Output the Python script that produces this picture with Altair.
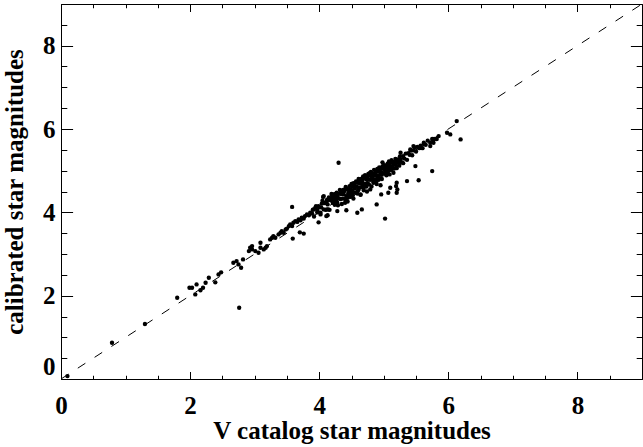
import altair as alt
import pandas as pd

# Sparse stars along the relation
sparse_x = [
    0.10, 0.79, 1.30, 1.80, 1.99, 2.03, 2.08, 2.10, 2.16, 2.20, 2.24, 2.29, 2.39, 2.44, 2.48,
    2.67, 2.72, 2.75, 2.79, 2.82, 2.91, 2.93, 2.96, 3.01, 3.06, 3.09,
    2.96, 3.09, 3.14, 3.17, 3.19, 3.24, 3.27, 3.29, 3.32,
    3.37, 3.40, 3.42, 3.45, 3.48, 3.50, 3.53, 3.55, 3.60, 3.63,
    3.66, 3.68, 3.71, 3.73, 3.76, 3.78, 3.81, 3.84, 3.86, 3.89, 3.58,
    3.91, 3.94, 3.97, 3.99, 4.02, 4.04, 4.07, 4.09, 4.12, 4.14, 4.17, 4.20, 4.22, 4.25, 4.27, 4.28,
    5.85, 5.98, 6.03, 6.13, 5.26, 5.41, 5.46, 5.57, 5.62, 5.72, 5.77,
]
sparse_y = [
    0.07, 0.87, 1.32, 1.95, 2.19, 2.19, 2.03, 2.27, 2.13, 2.19, 2.31, 2.43, 2.32, 2.51, 2.56,
    2.79, 2.83, 2.75, 2.67, 2.87, 3.07, 3.15, 3.19, 3.07, 3.03, 3.27,
    3.11, 3.15, 3.11, 3.15, 3.19, 3.35, 3.39, 3.43, 3.39,
    3.47, 3.51, 3.55, 3.51, 3.59, 3.61, 3.67, 3.71, 3.75, 3.79,
    3.77, 3.83, 3.81, 3.87, 3.85, 3.91, 3.95, 3.93, 3.99, 3.97, 3.67,
    4.07, 4.11, 4.05, 4.15, 3.99, 4.21, 4.39, 4.23, 4.27, 4.07, 4.31, 4.39, 4.43, 4.35, 4.47, 4.23,
    5.83, 5.91, 5.87, 6.19, 5.43, 5.51, 5.59, 5.55, 5.67, 5.59, 5.67,
]

# Stars lying off the relation
outlier_x = [
    2.76, 3.58, 3.59, 3.70, 3.76, 3.99, 4.13, 4.30, 4.06, 4.12, 4.11, 4.28, 4.40, 4.42,
    4.59, 4.66, 4.64, 4.79, 4.89, 4.96, 5.02, 5.07, 5.10, 4.95, 5.19, 5.20, 5.20, 5.21,
    5.36, 5.49, 5.54, 5.75, 6.19,
]
outlier_y = [
    1.71, 4.13, 3.37, 3.52, 3.49, 3.76, 3.93, 5.19, 4.37, 4.07, 3.91, 4.03, 4.23, 4.05,
    3.99, 4.07, 4.43, 4.55, 4.19, 4.43, 3.85, 4.47, 4.59, 4.65, 4.63, 4.47, 4.71, 4.55,
    4.75, 5.11, 4.77, 4.99, 5.75,
]

# Dense band of stars between magnitude 3.9 and 5.8
band_x = [
    3.90, 3.92, 3.95, 3.97, 4.00, 4.02, 4.03, 4.05, 4.07, 4.08,
    4.10, 4.12, 4.13, 4.15, 4.16, 4.18, 4.19, 4.21, 4.22, 4.24,
    4.25, 4.26, 4.28, 4.29, 4.30, 4.32, 4.33, 4.34, 4.35, 4.37,
    4.38, 4.39, 4.40, 4.41, 4.42, 4.43, 4.44, 4.45, 4.46, 4.47,
    4.48, 4.49, 4.50, 4.51, 4.52, 4.53, 4.54, 4.55, 4.56, 4.57,
    4.58, 4.59, 4.60, 4.61, 4.62, 4.63, 4.64, 4.65, 4.66, 4.67,
    4.68, 4.69, 4.70, 4.71, 4.72, 4.73, 4.74, 4.75, 4.76, 4.77,
    4.78, 4.79, 4.80, 4.81, 4.82, 4.83, 4.84, 4.85, 4.86, 4.87,
    4.88, 4.89, 4.90, 4.91, 4.92, 4.93, 4.94, 4.95, 4.96, 4.97,
    4.98, 4.99, 5.00, 5.01, 5.02, 5.03, 5.04, 5.05, 5.06, 5.07,
    5.08, 5.09, 5.10, 5.12, 5.13, 5.14, 5.16, 5.17, 5.18, 5.20,
    5.21, 5.23, 5.25, 5.26, 5.28, 5.30, 5.32, 5.34, 5.36, 5.38,
    5.40, 5.42, 5.44, 5.46, 5.48, 5.50, 5.52, 5.55, 5.57, 5.60,
    5.62, 5.65, 5.68, 5.72, 5.75, 5.78, 5.82,
    4.36, 4.52, 4.68, 4.84, 4.98, 5.06, 5.12, 4.44, 4.60, 4.76, 4.92, 5.08, 5.24, 5.15, 5.30,
    4.21, 4.27, 4.31, 4.36, 4.40, 4.45, 4.49, 4.53, 4.56, 4.61,
    4.64, 4.69, 4.72, 4.75, 4.80, 4.83, 4.87, 4.90, 4.94, 4.97,
    5.01, 5.04, 5.07, 5.11, 5.15, 5.19, 5.22, 4.33, 4.47, 4.58,
    4.66, 4.73, 4.81, 4.88, 4.95, 5.03, 5.10, 5.18, 4.25, 4.51,
]
band_y = [
    4.06, 3.90, 4.15, 4.00, 4.12, 3.95, 4.12, 4.28, 4.07, 4.22,
    4.06, 4.30, 4.19, 4.36, 4.06, 4.29, 4.44, 4.23, 4.37, 4.18,
    4.44, 4.34, 4.41, 4.17, 4.34, 4.54, 4.32, 4.44, 4.20, 4.54,
    4.43, 4.51, 4.32, 4.61, 4.39, 4.57, 4.26, 4.54, 4.47, 4.63,
    4.37, 4.55, 4.68, 4.46, 4.62, 4.33, 4.67, 4.57, 4.47, 4.74,
    4.62, 4.45, 4.71, 4.80, 4.60, 4.70, 4.42, 4.80, 4.60, 4.76,
    4.68, 4.53, 4.83, 4.89, 4.68, 4.79, 4.50, 4.86, 4.79, 4.67,
    4.94, 4.78, 4.88, 4.62, 4.94, 4.88, 4.71, 5.02, 4.79, 4.89,
    4.98, 4.68, 5.04, 4.88, 4.98, 5.08, 4.82, 4.96, 5.05, 4.80,
    5.11, 4.94, 5.04, 5.13, 4.93, 5.11, 4.89, 5.07, 5.17, 5.01,
    5.13, 4.91, 5.19, 5.25, 5.11, 5.21, 5.05, 5.20, 5.28, 5.06,
    5.27, 5.19, 5.34, 5.27, 5.20, 5.35, 5.29, 5.41, 5.26, 5.42,
    5.38, 5.48, 5.37, 5.49, 5.56, 5.46, 5.57, 5.54, 5.60, 5.54,
    5.64, 5.62, 5.72, 5.67, 5.76, 5.76, 5.76,
    4.50, 4.41, 4.86, 4.74, 5.20, 4.96, 5.02, 4.35, 4.52, 4.92, 4.78, 5.22, 5.12, 4.95, 5.18,
    4.31, 4.27, 4.45, 4.33, 4.55, 4.46, 4.50, 4.70, 4.62, 4.55,
    4.78, 4.60, 4.85, 4.70, 4.97, 4.80, 4.93, 4.82, 5.00, 4.90,
    5.08, 4.97, 5.10, 5.02, 5.16, 5.12, 5.22, 4.48, 4.42, 4.73,
    4.68, 4.62, 4.86, 4.75, 4.91, 4.98, 5.07, 5.20, 4.29, 4.52,
]

diag_x = [0, 9]
diag_y = [0, 9]
major_ticks = [0, 2, 4, 6, 8]
minor_ticks = [0, 0.5, 1, 1.5, 2, 2.5, 3, 3.5, 4, 4.5, 5, 5.5, 6, 6.5, 7, 7.5, 8, 8.5, 9]

assert len(sparse_x) == len(sparse_y)
assert len(outlier_x) == len(outlier_y)
assert len(band_x) == len(band_y)

stars = pd.DataFrame({
    "v": sparse_x + outlier_x + band_x,
    "cal": sparse_y + outlier_y + band_y,
})
diag = pd.DataFrame({"v": diag_x, "cal": diag_y})

FONT = "Liberation Serif"
FS = 25
xs = alt.Scale(domain=[0, 9], nice=False, zero=False)
ys = alt.Scale(domain=[0, 9], nice=False, zero=False)

X_MAJ, X_MIN = 7.5, 3.75
Y_MAJ, Y_MIN = 11.6, 5.8


def tick_axis(orient, values, size):
    return alt.Axis(orient=orient, values=values, tickSize=size, offset=-size,
                    labels=False, domain=False, grid=False, title=None,
                    tickColor="black", tickWidth=1)


points = alt.Chart(stars).mark_circle(size=19, color="black", opacity=1).encode(
    x=alt.X("v:Q", scale=xs, axis=alt.Axis(
        orient="bottom", values=major_ticks, tickSize=X_MAJ, offset=-X_MAJ,
        domain=False, grid=False, tickColor="black", tickWidth=1,
        labelFont=FONT, labelFontSize=FS, labelFontWeight="bold", labelColor="black",
        labelPadding=14, labelFlush=False, labelOverlap=False, format="d",
        title="V catalog star magnitudes", titleFont=FONT, titleFontSize=FS,
        titleFontWeight="bold", titleColor="black", titlePadding=0)),
    y=alt.Y("cal:Q", scale=ys, axis=alt.Axis(
        orient="left", values=major_ticks, tickSize=Y_MAJ, offset=-Y_MAJ,
        domain=False, grid=False, tickColor="black", tickWidth=1,
        labelFont=FONT, labelFontSize=FS, labelFontWeight="bold", labelColor="black",
        labelPadding=6, labelFlush=True, labelOverlap=False, format="d",
        title="calibrated star magnitudes", titleFont=FONT, titleFontSize=FS,
        titleFontWeight="bold", titleColor="black", titlePadding=15)),
)

line = alt.Chart(diag).mark_line(color="black", strokeDash=[9, 11], strokeWidth=1).encode(
    x=alt.X("v:Q", scale=xs, axis=tick_axis("bottom", minor_ticks, X_MIN)),
    y=alt.Y("cal:Q", scale=ys, axis=tick_axis("left", minor_ticks, Y_MIN)),
)

top_right_major = alt.Chart(diag).mark_point(opacity=0).encode(
    x=alt.X("v:Q", scale=xs, axis=tick_axis("top", major_ticks, X_MAJ)),
    y=alt.Y("cal:Q", scale=ys, axis=tick_axis("right", major_ticks, Y_MAJ)),
)

top_right_minor = alt.Chart(diag).mark_point(opacity=0).encode(
    x=alt.X("v:Q", scale=xs, axis=tick_axis("top", minor_ticks, X_MIN)),
    y=alt.Y("cal:Q", scale=ys, axis=tick_axis("right", minor_ticks, Y_MIN)),
)

chart = alt.layer(line, points, top_right_major, top_right_minor).resolve_axis(
    x="independent", y="independent"
).properties(
    width=581, height=375,
    autosize=alt.AutoSizeParams(type="none"),
    padding={"left": 61, "top": 4, "right": 1, "bottom": 68},
    background="white",
).configure_view(stroke="black", strokeWidth=1)

chart.save("out.html", embed_options={"renderer": "svg", "actions": False})
